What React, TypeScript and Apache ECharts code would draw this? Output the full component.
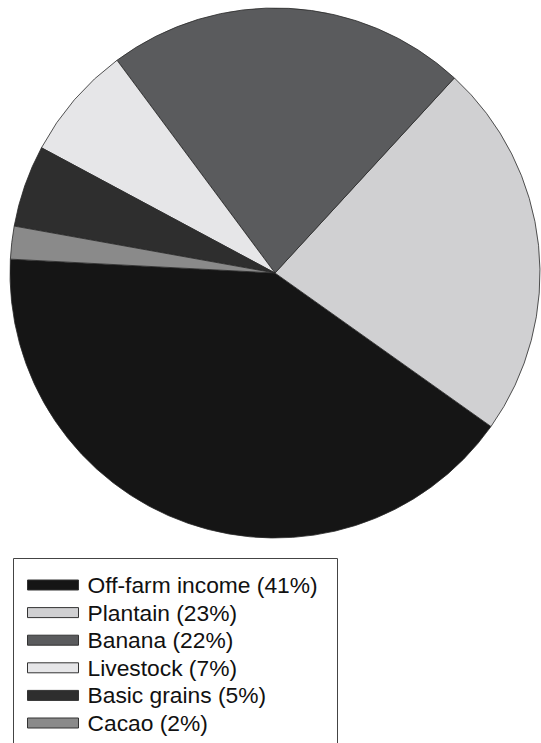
import React, { useEffect, useRef } from "react";
import * as echarts from "echarts";

const categories = ["Off-farm income", "Plantain", "Banana", "Livestock", "Basic grains", "Cacao"];
const shares = [41, 23, 22, 7, 5, 2];
const colors = ["#151515", "#d0d0d2", "#5a5b5d", "#e6e6e8", "#2e2e2e", "#8a8a8a"];

export default function App() {
  const ref = useRef<HTMLDivElement>(null);
  useEffect(() => {
    if (!ref.current) return;
    const chart = echarts.init(ref.current, null, { renderer: "svg" });
    const data = categories.map((name, i) => ({
      name,
      value: shares[i],
      itemStyle: { color: colors[i] },
    }));
    chart.setOption({
      animation: false,
      backgroundColor: "#ffffff",
      legend: {
        orient: "vertical",
        left: 27,
        top: 573.5,
        padding: 0,
        itemWidth: 51,
        itemHeight: 10,
        itemGap: 4.6,
        icon: "rect",
        data: categories,
        formatter: (name: string) => {
          const i = categories.indexOf(name);
          return `${name} (${shares[i]}%)`;
        },
        textStyle: {
          fontFamily: "Liberation Sans, Arial, sans-serif",
          fontSize: 22.8,
          lineHeight: 23,
          color: "#111",
          padding: [0, 0, 0, 4],
        },
        itemStyle: { borderColor: "#333", borderWidth: 1 },
      },
      graphic: [
        {
          type: "rect",
          shape: { x: 13.5, y: 558.5, width: 324, height: 200 },
          style: { fill: "none", stroke: "#444", lineWidth: 1 },
          silent: true,
        },
      ],
      series: [
        {
          type: "pie",
          center: [275, 273],
          radius: 265,
          startAngle: 177,
          clockwise: false,
          label: { show: false },
          labelLine: { show: false },
          emphasis: { disabled: true },
          itemStyle: { borderColor: "#2a2a2a", borderWidth: 0.8 },
          data,
        },
      ],
    });
    return () => chart.dispose();
  }, []);
  return (
    <div
      ref={ref}
      style={{ position: "absolute", left: 0, top: 0, width: 541, height: 743 }}
    />
  );
}
